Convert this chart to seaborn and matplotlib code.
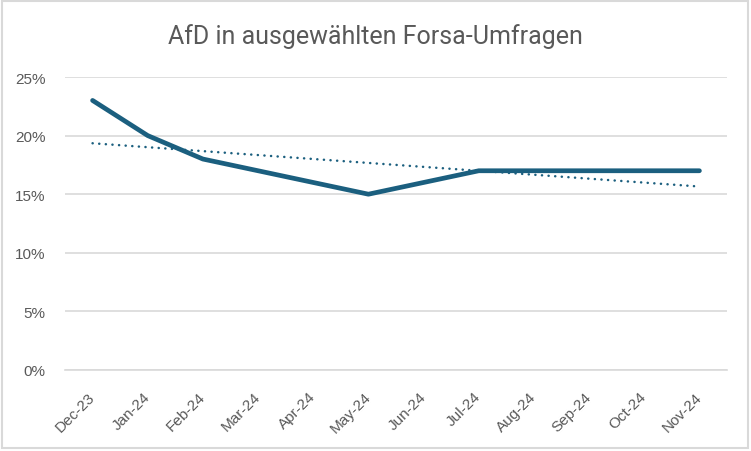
import numpy as np
import pandas as pd
import seaborn as sns
import matplotlib.pyplot as plt
import matplotlib.transforms as mtrans
from matplotlib.patches import Rectangle

months = ['Dec-23', 'Jan-24', 'Feb-24', 'Mar-24', 'Apr-24', 'May-24',
          'Jun-24', 'Jul-24', 'Aug-24', 'Sep-24', 'Oct-24', 'Nov-24']
afd = [0.23, 0.20, 0.18, 0.17, 0.16, 0.15, 0.16, 0.17, 0.17, 0.17, 0.17, 0.17]

df = pd.DataFrame({'Monat': months, 'AfD': afd})
xpos = np.arange(len(months))
coef = np.polyfit(xpos, afd, 1)
df['Trend'] = np.polyval(coef, xpos)

sns.set_style('white')
plt.rcParams['font.family'] = ['Liberation Sans', 'DejaVu Sans']

W, H = 751, 452
fig = plt.figure(figsize=(W/100, H/100), dpi=100)
# light frame around the chart area
fig.patches.append(Rectangle((1.5/W, 3/H), 1 - 4.5/W, 1 - 5/H, transform=fig.transFigure,
                             fill=False, edgecolor='#D9D9D9', linewidth=1.5))
ax = fig.add_axes([65/W, 81/H, 662/W, 293/H])

col = '#1B5F7F'
sns.lineplot(data=df, x='Monat', y='AfD', ax=ax, color=col, linewidth=3.4,
             solid_capstyle='round', sort=False)
sns.lineplot(x=xpos, y=df['Trend'], ax=ax, color=col, linewidth=1.8,
             linestyle=(0, (0.05, 2.6)), dash_capstyle='round')

ax.set_xlim(-0.5, len(months) - 0.5)
ax.set_ylim(0, 0.25)
yt = np.arange(0, 0.26, 0.05)
ax.set_yticks(yt)
ax.set_yticklabels([f'{int(round(v*100))}%' for v in yt])
ax.set_xticks(xpos)
ax.set_xticklabels(months, rotation=45, ha='right', rotation_mode='anchor')
ax.set_xticks(np.arange(-0.5, len(months)), minor=True)
ax.tick_params(axis='x', which='major', length=0, pad=11, labelsize=11, labelcolor='#595959')
ax.tick_params(axis='x', which='minor', length=5, color='#D9D9D9', width=1.2, direction='out')
ax.tick_params(axis='y', length=0, pad=14, labelsize=11, labelcolor='#595959')
shift = mtrans.ScaledTranslation(-5/100, -4/100, fig.dpi_scale_trans)
for lab in ax.get_xticklabels():
    lab.set_transform(lab.get_transform() + shift)
ax.yaxis.grid(True, color='#D9D9D9', linewidth=1.2)
ax.set_axisbelow(True)
for s in ['top', 'right', 'left']:
    ax.spines[s].set_visible(False)
ax.spines['bottom'].set_color('#D9D9D9')
ax.spines['bottom'].set_linewidth(1.2)
ax.set_xlabel('')
ax.set_ylabel('')

fig.text(0.5, 1 - 37/H, 'AfD in ausgewählten Forsa-Umfragen', ha='center', va='center',
         fontsize=18, color='#595959', family=['Roboto', 'DejaVu Sans'])

fig.savefig('out.png', dpi=100)
